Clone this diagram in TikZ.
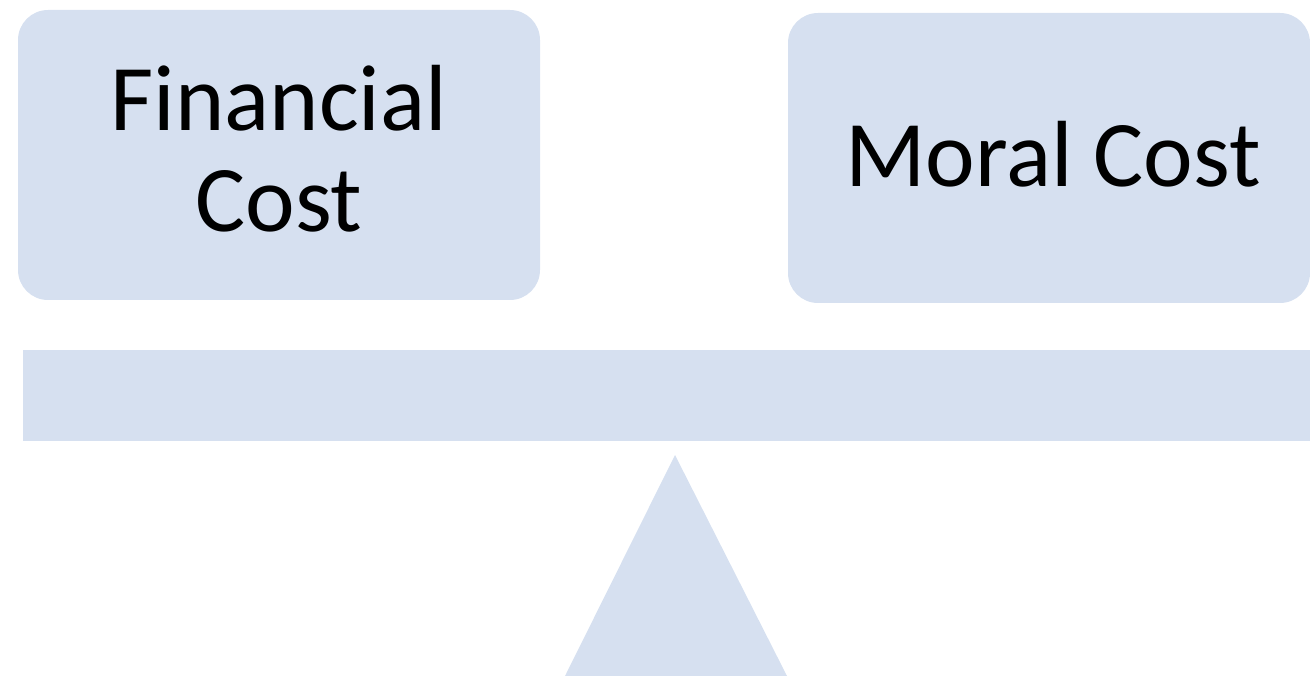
\documentclass[tikz,border=0pt]{standalone}
\usepackage{fontspec}
\setmainfont{Carlito}
\definecolor{scalefill}{RGB}{214,224,240}
\tikzset{
    costbox/.style={fill=scalefill, rounded corners=30pt, minimum width=522pt,
        minimum height=290pt, inner sep=0pt},
    costtext/.style={align=center, inner sep=0pt,
        font=\fontsize{94}{101}\selectfont}
}
\begin{document}
\begin{tikzpicture}[x=1pt, y=-1pt]
    \useasboundingbox (0, 0) rectangle (1310, 676);

    % Pans
    \node[costbox] (financial) at (279, 155) {};
    \node[costtext] (financialtext) at ([yshift=6pt]financial.center) {Financial\\Cost};
    \node[costbox] (moral) at (1049, 158) {};
    \node[costtext] (moraltext) at ([xshift=4pt, yshift=4pt]moral.center) {Moral Cost};

    % Beam
    \fill[scalefill] (23, 350) rectangle (1310, 441);

    % Fulcrum
    \fill[scalefill] (675, 455) -- (787, 676) -- (565, 676) -- cycle;
\end{tikzpicture}
\end{document}
